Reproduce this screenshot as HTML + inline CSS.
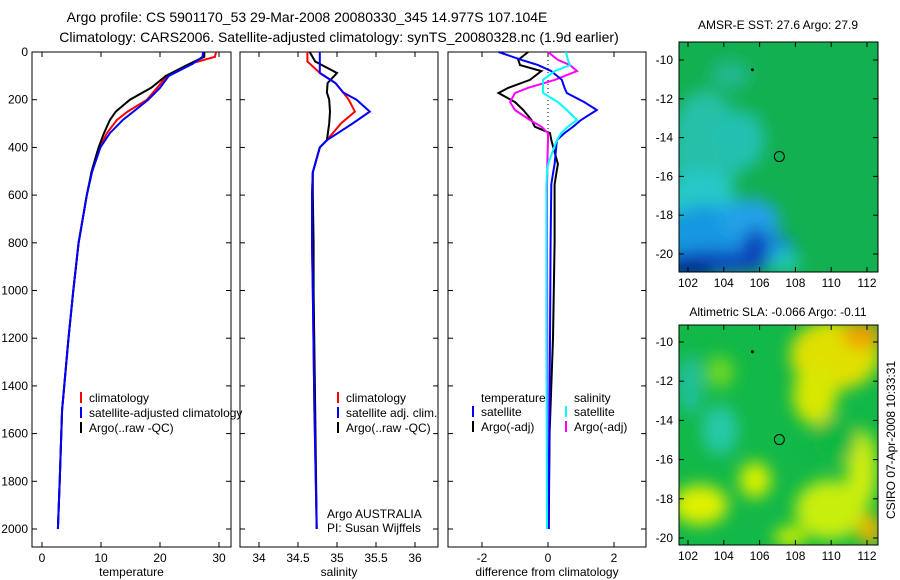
<!DOCTYPE html>
<html><head><meta charset="utf-8"><style>
body{margin:0;background:#fff;}
svg{display:block;font-family:"Liberation Sans",sans-serif;}
text{font-size:12px;fill:#000;}
</style></head><body>
<svg id="fig" width="900" height="580" viewBox="0 0 900 580">
<defs>
<filter id="bl" x="-50%" y="-50%" width="200%" height="200%"><feGaussianBlur stdDeviation="8"/></filter>
<clipPath id="c1"><rect x="679" y="42" width="199" height="230"/></clipPath>
<clipPath id="c2"><rect x="679" y="325" width="199" height="220"/></clipPath>
</defs>
<text x="307" y="22" text-anchor="middle" style="font-size:14px">Argo profile: CS 5901170_53 29-Mar-2008 20080330_345 14.977S 107.104E</text>
<text x="339" y="42" text-anchor="middle" style="font-size:14px">Climatology: CARS2006. Satellite-adjusted climatology: synTS_20080328.nc (1.9d earlier)</text>

<g clip-path="url(#c1)">
<rect x="679" y="42" width="199" height="230" fill="#12b050"/>
<g filter="url(#bl)">
<ellipse cx="705" cy="150" rx="35" ry="60" fill="#28c0a8"/>
<ellipse cx="740" cy="140" rx="25" ry="30" fill="#20c0b0"/>
<ellipse cx="700" cy="200" rx="35" ry="30" fill="#28c8c8"/>
<ellipse cx="705" cy="235" rx="40" ry="30" fill="#1898e0"/>
<ellipse cx="750" cy="220" rx="30" ry="22" fill="#20a0e8"/>
<ellipse cx="765" cy="250" rx="30" ry="18" fill="#1888e0"/>
<ellipse cx="715" cy="262" rx="50" ry="12" fill="#0a48c0"/>
<ellipse cx="755" cy="250" rx="12" ry="22" fill="#0a40b8"/>
<ellipse cx="690" cy="270" rx="25" ry="8" fill="#001888"/>
<ellipse cx="785" cy="262" rx="15" ry="12" fill="#20c8b0"/>
<ellipse cx="730" cy="75" rx="20" ry="15" fill="#20b890"/>
</g>
</g>
<rect x="679" y="42" width="199" height="230" fill="none" stroke="#000"/>
<text x="778" y="29" text-anchor="middle">AMSR-E SST: 27.6 Argo: 27.9</text>

<g clip-path="url(#c2)">
<rect x="679" y="325" width="199" height="220" fill="#12b848"/>
<g filter="url(#bl)">
<ellipse cx="835" cy="355" rx="45" ry="35" fill="#e0e000"/>
<ellipse cx="862" cy="335" rx="20" ry="14" fill="#f0a000"/>
<ellipse cx="815" cy="395" rx="22" ry="30" fill="#d8e800"/>
<ellipse cx="862" cy="470" rx="15" ry="40" fill="#d0ee10"/>
<ellipse cx="690" cy="385" rx="12" ry="30" fill="#20c0a0"/>
<ellipse cx="720" cy="430" rx="18" ry="25" fill="#28c8a8"/>
<ellipse cx="720" cy="372" rx="14" ry="16" fill="#70d820"/>
<ellipse cx="700" cy="505" rx="28" ry="20" fill="#e0f000"/>
<ellipse cx="755" cy="480" rx="16" ry="18" fill="#d8f000"/>
<ellipse cx="830" cy="510" rx="35" ry="30" fill="#c8ee10"/>
<ellipse cx="870" cy="530" rx="12" ry="16" fill="#f0b000"/>
<ellipse cx="790" cy="537" rx="16" ry="10" fill="#d0f000"/>
<ellipse cx="835" cy="440" rx="22" ry="22" fill="#10b840"/>
</g>
</g>
<rect x="679" y="325" width="199" height="220" fill="none" stroke="#000"/>
<text x="778" y="316" text-anchor="middle">Altimetric SLA: -0.066 Argo: -0.11</text>

<text transform="translate(895,440) rotate(-90)" text-anchor="middle">CSIRO 07-Apr-2008 10:33:31</text>
<g id="dyn"></g>
</svg>
<script>
// ---- data ----
const depthTicks=[0,200,400,600,800,1000,1200,1400,1600,1800,2000];
const tempTicks=[0,10,20,30];
const salTicks=[34,34.5,35,35.5,36];
const diffTicks=[-2,0,2];
const lonTicks=[102,104,106,108,110,112];
const latTicks=[-10,-12,-14,-16,-18,-20];

const tDepth=[0,20,50,100,150,200,250,285,340,400,500,600,800,1000,1200,1500,1800,2000];
const tClim=[29.5,29.3,25,21.2,19.5,17.8,14.5,12.7,11,9.8,8.5,7.6,6.2,5.3,4.5,3.4,3,2.7];
const tSat=[27.3,27.2,25.5,21.5,20,18,15.5,13.7,11.5,9.9,8.5,7.6,6.2,5.3,4.5,3.4,3,2.7];
const tArgo=[27.5,27.5,25,21,18.5,14.9,12.5,11.5,10.5,9.6,8.4,7.6,6.2,5.3,4.5,3.4,3,2.7];

const sDepth=[0,40,88,130,170,200,250,300,370,400,505,600,800,1000,1500,2000];
const sClim=[34.62,34.62,34.78,34.98,35.08,35.15,35.23,35.05,34.87,34.78,34.69,34.68,34.68,34.69,34.71,34.74];
const sSat=[34.78,34.78,34.78,34.98,35.08,35.25,35.42,35.2,34.87,34.78,34.69,34.68,34.68,34.69,34.71,34.74];
const sArgo=[34.65,34.72,35.0,34.88,34.87,34.9,34.91,34.9,34.87,34.78,34.69,34.69,34.7,34.7,34.72,34.74];

const dDepth=[0,33,55,80,117,150,172,210,243,285,313,340,369,470,510,555,800,1200,1600,2000];
const dTempSat=[-1.5,-0.8,-0.3,0.1,0.42,0.5,0.57,1.1,1.48,1.0,0.76,0.5,0.27,0.2,0.15,0.1,0.08,0.06,0.04,0.02];
const dTempArgo=[-0.6,-0.9,-0.85,-0.2,-0.55,-1.2,-1.5,-1.0,-0.75,-0.5,-0.4,0.06,0.1,0.3,0.25,0.2,0.2,0.15,0.05,0.02];
const dSalSat=[0.55,0.6,0.67,0.2,-0.15,-0.15,-0.15,0.3,0.57,0.88,0.6,0.4,0.27,0.0,-0.03,-0.05,-0.05,-0.05,-0.04,-0.03];
const dSalArgo=[0.0,0.3,0.67,0.88,0.2,-0.6,-1.0,-1.15,-1.0,-0.55,-0.2,0,0,-0.02,-0.02,-0.03,-0.03,-0.02,-0.02,0.0];

// ---- drawing ----
const NS='http://www.w3.org/2000/svg';
const G=document.getElementById('dyn');
function mk(tag,at,parent){const e=document.createElementNS(NS,tag);for(const k in at)e.setAttribute(k,at[k]);(parent||G).appendChild(e);return e;}
const yTop=52,pxPerM=0.2385;
function yD(d){return yTop+d*pxPerM;}
const panels=[
 {x0:32,x1:231,v0:42,vs:5.9,ref:0,ticks:tempTicks,label:'temperature',name:'temperature-panel'},
 {x0:240,x1:438,v0:259,vs:78,ref:34,ticks:salTicks,label:'salinity',name:'salinity-panel'},
 {x0:448,x1:646,v0:548,vs:33,ref:0,ticks:diffTicks,label:'difference from climatology',name:'difference-panel'}];
function xv(p,v){return p.v0+(v-p.ref)*p.vs;}
const yBot=547;
panels.forEach((p,i)=>{
  const r=mk('rect',{x:p.x0,y:yTop,width:p.x1-p.x0,height:yBot-yTop,fill:'none',stroke:'#000'});
  
  
  p.ticks.forEach(t=>{
    const x=xv(p,t);
    mk('line',{x1:x,x2:x,y1:yTop,y2:yTop+5,stroke:'#000'});
    mk('line',{x1:x,x2:x,y1:yBot,y2:yBot-5,stroke:'#000'});
    const tx=mk('text',{x:x,y:yBot+15,'text-anchor':'middle'});tx.textContent=t;
    
    
  });
  depthTicks.forEach(d=>{
    const y=yD(d);
    mk('line',{x1:p.x0,x2:p.x0+5,y1:y,y2:y,stroke:'#000'});
    mk('line',{x1:p.x1,x2:p.x1-5,y1:y,y2:y,stroke:'#000'});
    if(i===0){const tx=mk('text',{x:28,y:y+4,'text-anchor':'end'});tx.textContent=d;
      
      }
  });
  const lb=mk('text',{x:(p.x0+p.x1)/2,y:576,'text-anchor':'middle'});lb.textContent=p.label;
  
  
});
function line(p,ds,vs,col,name,w){
  const pts=ds.map((d,k)=>xv(p,vs[k]).toFixed(1)+','+yD(d).toFixed(1)).join(' ');
  const e=mk('polyline',{points:pts,fill:'none',stroke:col,'stroke-width':w||2});
  
  
}
mk('line',{x1:548,x2:548,y1:yTop,y2:150,stroke:'#000','stroke-dasharray':'1,3'});
line(panels[0],tDepth,tClim,'#f00','temp-climatology-line');
line(panels[0],tDepth,tArgo,'#000','temp-argo-line');
line(panels[0],tDepth,tSat,'#00f','temp-satellite-line');
line(panels[1],sDepth,sClim,'#f00','sal-climatology-line');
line(panels[1],sDepth,sArgo,'#000','sal-argo-line');
line(panels[1],sDepth,sSat,'#00f','sal-satellite-line');
line(panels[2],dDepth,dTempArgo,'#000','diff-temp-argo-line');
line(panels[2],dDepth,dSalArgo,'#f0f','diff-sal-argo-line');
line(panels[2],dDepth,dTempSat,'#00f','diff-temp-satellite-line');
line(panels[2],dDepth,dSalSat,'#0ff','diff-sal-satellite-line');

function legend(x,y,col,txt,name){
  if(col){const b=mk('line',{x1:x,x2:x,y1:y-10,y2:y+1,stroke:col,'stroke-width':2});
    
    }
  const t=mk('text',{x:x+8,y:y});t.textContent=txt;
  
  
}
legend(81,402,'#f00','climatology','legend-climatology');
legend(81,417,'#00f','satellite-adjusted climatology','legend-satellite');
legend(81,432,'#000','Argo(..raw -QC)','legend-argo');
legend(338,402,'#f00','climatology','legend2-climatology');
legend(338,417,'#00f','satellite adj. clim.','legend2-satellite');
legend(338,432,'#000','Argo(..raw -QC)','legend2-argo');
legend(473,402,null,'temperature','legend3-temperature-heading');
legend(473,416,'#00f','satellite','legend3-temp-satellite');
legend(473,431,'#000','Argo(-adj)','legend3-temp-argo');
legend(566,402,null,'salinity','legend3-salinity-heading');
legend(566,416,'#0ff','satellite','legend3-sal-satellite');
legend(566,431,'#f0f','Argo(-adj)','legend3-sal-argo');
const a1=mk('text',{x:327,y:518});a1.textContent='Argo AUSTRALIA';


const a2=mk('text',{x:327,y:532});a2.textContent='PI: Susan Wijffels';



// map axes
const maps=[{y0:42,y1:272,yl10:60,ylpd:19.4},{y0:325,y1:545,yl10:342,ylpd:19.6}];
maps.forEach((m,mi)=>{
  lonTicks.forEach(l=>{const x=688+(l-102)*17.9;
    mk('line',{x1:x,x2:x,y1:m.y1,y2:m.y1-5,stroke:'#000'});
    mk('line',{x1:x,x2:x,y1:m.y0,y2:m.y0+5,stroke:'#000'});
    const t=mk('text',{x:x,y:m.y1+15,'text-anchor':'middle'});t.textContent=l;
    
    });
  latTicks.forEach(l=>{const y=m.yl10+(-10-l)*m.ylpd;
    mk('line',{x1:679,x2:684,y1:y,y2:y,stroke:'#000'});
    mk('line',{x1:878,x2:873,y1:y,y2:y,stroke:'#000'});
    const t=mk('text',{x:673,y:y+4,'text-anchor':'end'});t.textContent=l;
    
    });
  const c=mk('circle',{cx:688+(107.104-102)*17.9,cy:m.yl10+4.977*m.ylpd,r:5,fill:'none',stroke:'#000'});
  
  
  mk('circle',{cx:688+3.6*17.9,cy:m.yl10+0.5*m.ylpd,r:1.5,fill:'#000'});
});
</script>
</body></html>
